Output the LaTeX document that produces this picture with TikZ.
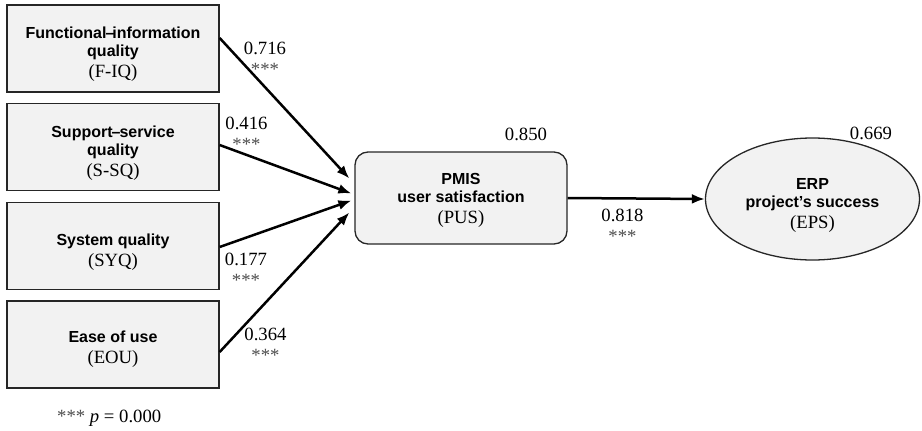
\documentclass[tikz,border=0pt]{standalone}
\usepackage{fontspec}
\setmainfont{Liberation Serif}
\setsansfont{Liberation Sans}
\usetikzlibrary{arrows.meta,shapes.geometric}
\newcommand{\hd}[1]{{\sffamily\bfseries #1}}
\newcommand{\ab}[1]{{\fontsize{18.7}{18}\selectfont #1}}
\newcommand{\stars}{{\color{black!70}***}}
\tikzset{
  bx/.style={draw=black!85, line width=1.3pt, fill=black!5, minimum width=212pt, minimum height=87pt, inner sep=0pt},
  txt/.style={align=center, inner sep=0pt, font=\fontsize{16}{18}\selectfont},
  lab/.style={align=center, inner sep=0pt, font=\fontsize{18.7}{21}\selectfont},
  num/.style={inner sep=0pt, font=\fontsize{18.7}{21}\selectfont},
  conn/.style={line width=2.5pt, -{Latex[length=13pt,width=10pt]}}
}
\begin{document}
\begin{tikzpicture}[x=1pt,y=-1pt]
\useasboundingbox (0,0) rectangle (922,431);
% left boxes
\node[bx] (f) at (113,48.5) {};
\node[bx] (s) at (113,147) {};
\node[bx] (y) at (113,246) {};
\node[bx] (u) at (113,344.5) {};
\node[txt] (ft) at ([yshift=-6pt]f.center) {\hd{Functional\kern-1pt–\kern-2pt information}\\ \hd{quality}\\[3pt] \ab{(F-IQ)}};
\node[txt] (st) at ([yshift=-6.5pt]s.center) {\hd{Support\kern-1pt–\kern-1pt service}\\ \hd{quality}\\[3pt] \ab{(S-SQ)}};
\node[txt] (yt) at ([yshift=-6pt]y.center) {\hd{System quality}\\[3pt] \ab{(SYQ)}};
\node[txt] (ut) at ([yshift=-5pt]u.center) {\hd{Ease of use}\\[3pt] \ab{(EOU)}};
% PUS
\node[bx, rounded corners=13pt, minimum height=92pt] (p) at (461,198) {};
\node[txt] (pt) at ([yshift=-2.5pt]p.center) {\hd{PMIS}\\ \hd{user satisfaction}\\[3pt] \ab{(PUS)}};
% EPS
\node[ellipse, draw=black!85, line width=1.3pt, fill=black!5, minimum width=214pt, minimum height=122pt, inner sep=0pt] (e) at (812.5,199) {};
\node[txt] (et) at ([yshift=-6pt]e.center) {\hd{ERP}\\ \hd{project’s success}\\[3pt] \ab{(EPS)}};
% connectors
\draw[conn] ([yshift=10.5pt]f.east) -- ([xshift=-5pt,yshift=19.5pt]p.west);
\draw[conn] ([yshift=2pt]s.east) -- ([xshift=-3pt,yshift=4.5pt]p.west);
\draw[conn] ([yshift=-1pt]y.east) -- ([xshift=-3pt,yshift=-2.5pt]p.west);
\draw[conn] ([yshift=-7.5pt]u.east) -- ([xshift=-5pt,yshift=-14.5pt]p.west);
\draw[conn] (p.east) -- (e.west);
% labels
\node[lab] (l1) at (265,58.75) {0.716\\\stars};
\node[lab] (l2) at (246.5,134) {0.416\\\stars};
\node[lab] (l3) at (246,270) {0.177\\\stars};
\node[lab] (l4) at (265.5,345) {0.364\\\stars};
\node[lab] (l5) at (622.5,226) {0.818\\\stars};
\node[num, anchor=north] (r1) at (526,128) {0.850};
\node[num, anchor=north] (r2) at (871,127) {0.669};
\node[num, anchor=base west] (fn) at (57,422) {\stars{} \textit{p} = 0.000};
\end{tikzpicture}
\end{document}
